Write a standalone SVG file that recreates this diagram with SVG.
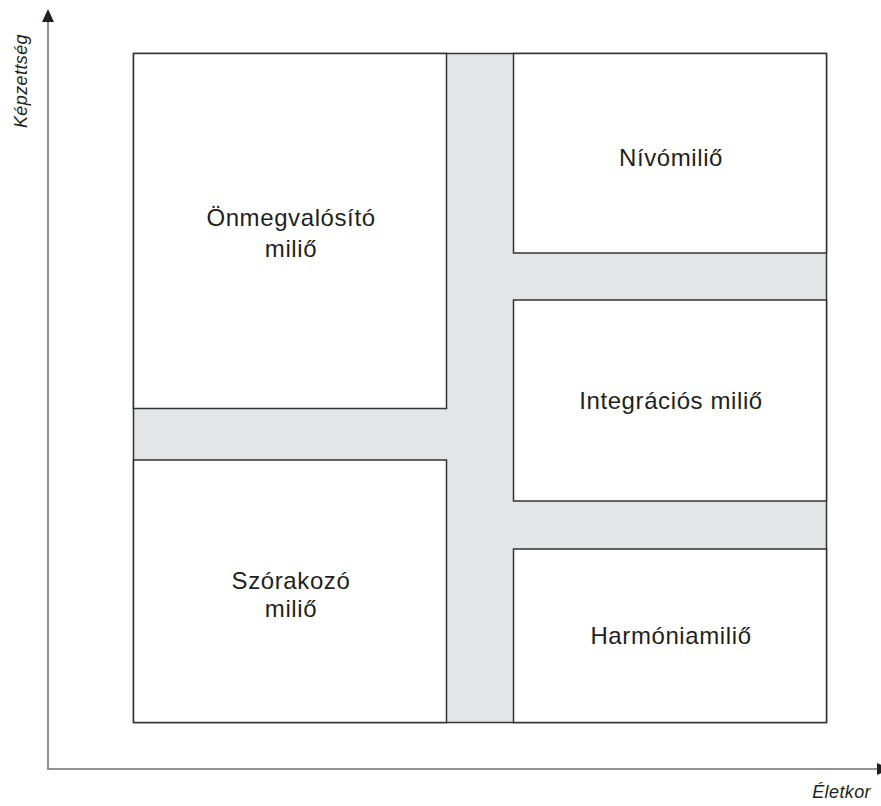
<svg xmlns="http://www.w3.org/2000/svg" width="881" height="806" viewBox="0 0 881 806">
<style>
.box{fill:#fff;stroke:#333;stroke-width:1.5}
.lbl{font-family:"Liberation Sans",Arial,sans-serif;font-size:24px;letter-spacing:0.6px;fill:#231f20;text-anchor:middle}
.ax{font-family:"Liberation Sans",Arial,sans-serif;font-size:18px;letter-spacing:0.4px;font-style:italic;fill:#231f20}
.axis{stroke:#6d6e70;stroke-width:1.5;fill:none}
</style>
<rect x="0" y="0" width="881" height="806" fill="#fff"/>
<g id="connectors">
<line class="axis" x1="48" y1="22" x2="48" y2="769"/>
<line class="axis" x1="47.25" y1="769" x2="877" y2="769"/>
<polygon points="48,9 42,22 54,22" fill="#231f20"/>
<polygon points="877,763 890,769 877,775" fill="#231f20"/>
</g>
<g id="background">
<rect x="133.5" y="53.5" width="693" height="669" fill="#e4e5e7" stroke="#333" stroke-width="1.5"/>
</g>
<g id="onmegvalosito">
<rect class="box" x="133.5" y="53.5" width="313" height="355"/>
<text class="lbl" x="291" y="226">Önmegvalósító</text>
<text class="lbl" x="291" y="257">miliő</text>
</g>
<g id="szorakozo">
<rect class="box" x="133.5" y="460" width="313" height="262.5"/>
<text class="lbl" x="291" y="589">Szórakozó</text>
<text class="lbl" x="291" y="617">miliő</text>
</g>
<g id="nivo">
<rect class="box" x="513.5" y="53.5" width="313" height="199.5"/>
<text class="lbl" x="671" y="166">Nívómiliő</text>
</g>
<g id="integracios">
<rect class="box" x="513.5" y="300" width="313" height="201"/>
<text class="lbl" x="671" y="409">Integrációs miliő</text>
</g>
<g id="harmonia">
<rect class="box" x="513.5" y="549" width="313" height="173.5"/>
<text class="lbl" x="671" y="644">Harmóniamiliő</text>
</g>
<g id="axis-labels">
<text class="ax" transform="translate(27,81) rotate(-90)" text-anchor="middle">Képzettség</text>
<text class="ax" x="871" y="798" text-anchor="end">Életkor</text>
</g>
</svg>
